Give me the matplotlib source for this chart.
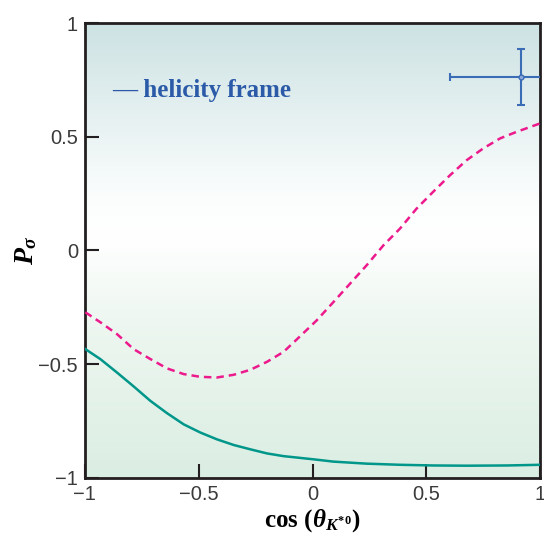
import numpy as np
import matplotlib
matplotlib.use("Agg")
import matplotlib.pyplot as plt
from matplotlib.colors import LinearSegmentedColormap

# values
cos_dashed = [-0.998, -0.932, -0.859, -0.786, -0.712, -0.639, -0.566, -0.493, -0.42,
              -0.346, -0.273, -0.2, -0.127, -0.075, 0.017, 0.091, 0.164, 0.237, 0.311,
              0.384, 0.457, 0.53, 0.604, 0.677, 0.75, 0.824, 0.897, 1.0]
p_dashed = [-0.272, -0.316, -0.368, -0.434, -0.478, -0.519, -0.544, -0.556, -0.559,
            -0.547, -0.525, -0.490, -0.446, -0.397, -0.309, -0.228, -0.147, -0.066, 0.022,
            0.096, 0.184, 0.258, 0.331, 0.397, 0.449, 0.493, 0.522, 0.559]
cos_solid = [-0.998, -0.932, -0.859, -0.786, -0.712, -0.639, -0.566, -0.493, -0.42,
             -0.346, -0.273, -0.2, -0.127, 0.005, 0.091, 0.237, 0.384, 0.53, 0.677,
             0.853, 1.0]
p_solid = [-0.434, -0.478, -0.537, -0.598, -0.662, -0.716, -0.765, -0.801, -0.831,
           -0.856, -0.875, -0.893, -0.905, -0.919, -0.929, -0.938, -0.943, -0.946,
           -0.947, -0.946, -0.943]
point_x = [0.915]
point_y = [0.765]
point_xerr = [0.31]
point_yerr = [0.123]
xticks = [-1, -0.5, 0, 0.5, 1]
yticks = [-1, -0.5, 0, 0.5, 1]
tick_labels = ["\u22121", "\u22120.5", "0", "0.5", "1"]

plt.rcParams["mathtext.fontset"] = "custom"
plt.rcParams["mathtext.rm"] = "Liberation Serif:bold"
plt.rcParams["mathtext.it"] = "Liberation Serif:italic:bold"
plt.rcParams["mathtext.bf"] = "Liberation Serif:bold"

fig = plt.figure(figsize=(5.44, 5.38), dpi=100)
ax = fig.add_axes([0.156, 0.112, 0.837, 0.845])

# background gradient: blue-green top, white middle, pale green bottom
bg = LinearSegmentedColormap.from_list(
    "bg", [(0.0, "#dbeee3"), (0.35, "#eef7f1"), (0.53, "#ffffff"), (0.62, "#fbfdfd"),
           (1.0, "#cde2e3")])
grad = np.linspace(0, 1, 256).reshape(-1, 1)
ax.imshow(grad, cmap=bg, aspect="auto", extent=[-1, 1, -1, 1], origin="lower", zorder=0)

ax.plot(cos_solid, p_solid, color="#00968a", lw=1.8, zorder=3)
ax.plot(cos_dashed, p_dashed, color="#ec1a8c", lw=1.8, ls=(0, (3, 2)), zorder=3)
ax.errorbar(point_x, point_y, xerr=point_xerr, yerr=point_yerr, fmt="o", ms=3.5,
            mfc="#8fa8d8", mec="#3a6db5", color="#3a6db5", elinewidth=1.5, capsize=3,
            capthick=1.5, zorder=4)

ax.text(-0.88, 0.705, "\u2014 helicity frame", color="#2a5aa8", fontsize=18,
        fontweight="bold", family="Liberation Serif", va="center", ha="left")

ax.set_xlim(-1, 1)
ax.set_ylim(-1, 1)
ax.set_xticks(xticks)
ax.set_xticklabels(tick_labels)
ax.set_yticks(yticks)
ax.set_yticklabels(tick_labels)
ax.tick_params(direction="in", length=10, width=1.5, color="#231f20", labelsize=14.5,
               pad=5)
for lab in ax.get_xticklabels() + ax.get_yticklabels():
    lab.set_family("Liberation Sans")
    lab.set_color("#3a3a3a")
for sp in ax.spines.values():
    sp.set_linewidth(2)
    sp.set_color("#231f20")

ax.set_xlabel(r"$\mathrm{cos}\ (\theta_{K^{*0}})$", fontsize=18)
ax.xaxis.set_label_coords(0.5, -0.065)
ax.set_ylabel(r"$P_\sigma$", fontsize=20)
ax.yaxis.set_label_coords(-0.1, 0.5)

fig.savefig("out.png", dpi=100)
